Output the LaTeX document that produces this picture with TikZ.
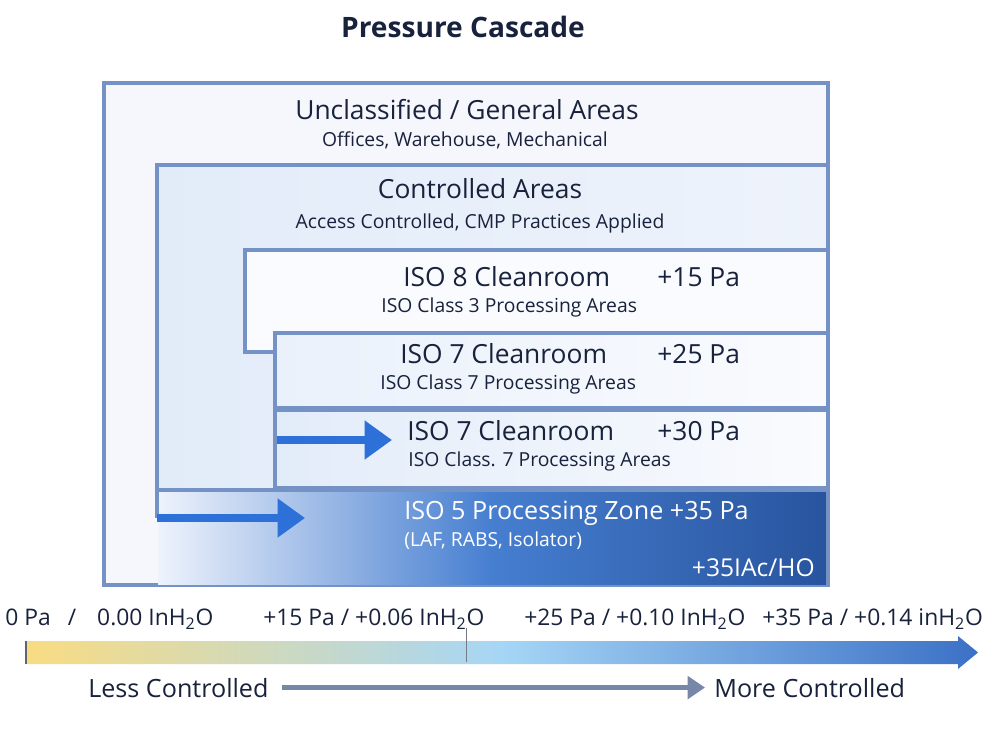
\documentclass[tikz,border=0pt]{standalone}
\usepackage{fontspec}
\setmainfont{Open Sans}
\usetikzlibrary{arrows.meta, positioning}
\definecolor{zoneline}{RGB}{116,146,198}
\definecolor{inkdark}{RGB}{24,34,60}
\definecolor{flowblue}{RGB}{44,112,216}
\definecolor{hintgray}{RGB}{118,135,168}
\definecolor{outerfill}{RGB}{245,247,252}
\definecolor{ctrlfill}{RGB}{226,236,249}
\definecolor{ctrlfillb}{RGB}{238,243,251}
\definecolor{cleanfill}{RGB}{250,251,254}
\definecolor{sevenfill}{RGB}{234,241,251}

\begin{document}
\begin{tikzpicture}[x=0.2mm, y=-0.2mm,
    zone/.style={draw=zoneline, line width=2pt},
    ztitle/.style={text=inkdark, font=\fontsize{15}{18}\selectfont, inner sep=0pt},
    zsub/.style={text=inkdark, font=\fontsize{11}{13}\selectfont, inner sep=0pt},
    scalelbl/.style={text=inkdark, font=\fontsize{13}{15}\selectfont, inner sep=0pt, anchor=base west},
    flow/.style={-{Triangle[length=5.5mm, width=7.5mm]}, line width=1.6mm, draw=flowblue},
    trend/.style={-{Triangle[length=3.5mm, width=4.5mm]}, line width=1mm, draw=hintgray}
]
\useasboundingbox (0,0) rectangle (1000,739);
\fill[white] (0,0) rectangle (1000,739);

% nested zones
\draw[zone, fill=outerfill] (104,83) rectangle (828,585);
\draw[zone, left color=ctrlfill, right color=ctrlfillb] (157,165) rectangle (828,490);
\draw[zone, fill=cleanfill] (245,250) rectangle (828,352);
\draw[zone, left color=sevenfill, right color=cleanfill] (275,333) rectangle (828,408);
\draw[zone, left color=ctrlfill, right color=cleanfill] (275,410) rectangle (828,488);
\shade[left color={rgb,255:red,238;green,243;blue,252},
       right color={rgb,255:red,40;green,84;blue,158},
       middle color={rgb,255:red,70;green,126;blue,208}] (158,491) rectangle (827,584);
\draw[zoneline, line width=2pt] (157,490) -- (828,490) -- (828,585);
\draw[zoneline, line width=2pt] (157,490) -- (157,518);

% zone labels
\node[text=inkdark, font=\fontsize{16}{19}\selectfont\bfseries, inner sep=0pt, anchor=base] (title) at (463,38) {Pressure Cascade};
\node[ztitle, anchor=base] (general) at (467,120) {Unclassified / General Areas};
\node[zsub, anchor=base] (generalsub) at (465,147) {Offices, Warehouse, Mechanical};
\node[ztitle, anchor=base] (ctrl) at (480,199) {Controlled Areas};
\node[zsub, anchor=base] (ctrlsub) at (480,229) {Access Controlled, CMP Practices Applied};
\node[ztitle, anchor=base west] (isoeight) at (403,287) {ISO 8 Cleanroom};
\node[ztitle, anchor=base west] (isoeightp) at (657,287) {+15 Pa};
\node[zsub, anchor=base west] (isoeightsub) at (381,313) {ISO Class 3 Processing Areas};
\node[ztitle, anchor=base west] (isoseven) at (400,364) {ISO 7 Cleanroom};
\node[ztitle, anchor=base west] (isosevenp) at (657,364) {+25 Pa};
\node[zsub, anchor=base west] (isosevensub) at (380,390) {ISO Class 7 Processing Areas};
\node[ztitle, anchor=base west] (isosevenb) at (407,441) {ISO 7 Cleanroom};
\node[ztitle, anchor=base west] (isosevenbp) at (657,441) {+30 Pa};
\node[zsub, anchor=base west] (isosevenbsub) at (408,467) {ISO Class. 7 Processing Areas};
\node[ztitle, text=white, font=\fontsize{14.3}{17}\selectfont, anchor=base west] (isofive) at (404,520) {ISO 5 Processing Zone +35 Pa};
\node[zsub, text=white, anchor=base west] (isofivesub) at (404,547) {(LAF, RABS, Isolator)};
\node[ztitle, text=white, font=\fontsize{14}{17}\selectfont, anchor=base east] (ach) at (815,576) {+35IAc/HO};

% airflow arrows
\coordinate (tailseven) at (277,440);
\coordinate (tipseven) at (392,440);
\coordinate (tailfive) at (157,518);
\coordinate (tipfive) at (305,518);
\draw[flow] (tailseven) -- (tipseven);
\draw[flow] (tailfive) -- (tipfive);

% pressure scale
\node[scalelbl] (pzero) at (5,625) {0 Pa\hspace{3.4mm}/\hspace{4.2mm}0.00 InH\textsubscript{2}O};
\node[scalelbl] (pfifteen) at (263,625) {+15 Pa / +0.06 InH\textsubscript{2}O};
\node[scalelbl] (ptwentyfive) at (524,625) {+25 Pa / +0.10 InH\textsubscript{2}O};
\node[scalelbl] (pthirtyfive) at (762,625) {+35 Pa / +0.14 inH\textsubscript{2}O};
\shade[left color={rgb,255:red,249;green,220;blue,130},
       right color={rgb,255:red,59;green,112;blue,198},
       middle color={rgb,255:red,166;green,214;blue,246}]
  (25,641) -- (958,641) -- (958,636) -- (978,652.5) -- (958,669) -- (958,664) -- (25,664) -- cycle;
\draw[inkdark!70, line width=0.6pt] (26,641) -- (26,664);
\draw[inkdark!60, line width=0.4pt] (466,628) -- (466,662);

\node[text=inkdark, font=\fontsize{14.3}{17}\selectfont, inner sep=0pt, anchor=base west] (less) at (88,697) {Less Controlled};
\node[text=inkdark, font=\fontsize{14.3}{17}\selectfont, inner sep=0pt, anchor=base west] (more) at (714,697) {More Controlled};
\draw[trend, shorten <=2.6mm, shorten >=1.8mm] (less) -- (more);
\end{tikzpicture}
\end{document}
